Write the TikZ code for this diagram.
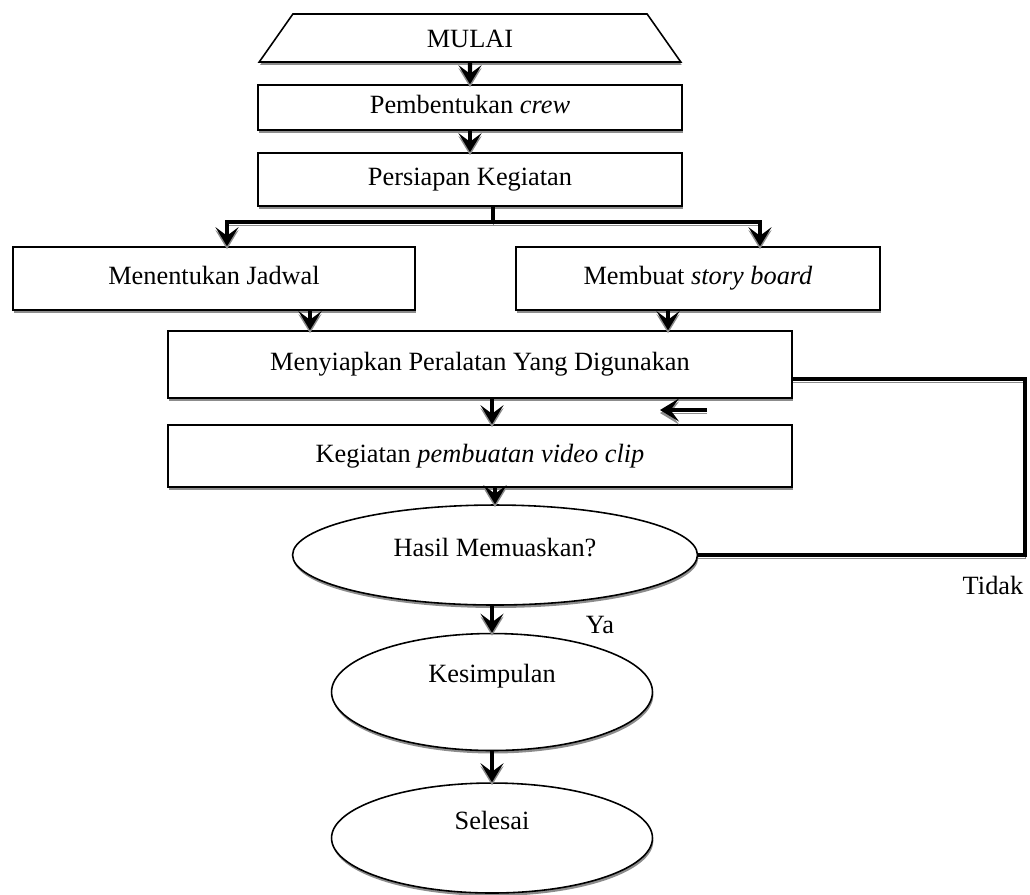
\documentclass[tikz,border=0pt]{standalone}
\usepackage{fontspec}
\setmainfont{Liberation Serif}
\usetikzlibrary{arrows.meta,positioning,calc,shapes.geometric,shadows}
\definecolor{shadowg}{gray}{0.55}
\newcommand{\flowfont}{\fontsize{15}{18}\selectfont}
\tikzset{
  every picture/.append style={font=\flowfont},
  fbox/.style   = {draw, line width=0.9pt, fill=white, inner sep=0pt, align=center,
                   text height=10.5pt, text depth=3.2pt,
                   drop shadow={shadow xshift=0.5pt, shadow yshift=-1.7pt,
                                fill=shadowg, opacity=1}},
  fterm/.style  = {fbox, ellipse},
  fstart/.style = {fbox, trapezium, trapezium left angle=66,
                   trapezium right angle=66, trapezium stretches=true},
  conn/.style   = {draw, line width=2.5pt,
                   preaction={draw=shadowg, transform canvas={yshift=-1.7pt}}},
  arr/.style    = {conn, -{Stealth[length=3.8mm, width=4.6mm, inset=1.7mm]}},
  lbl/.style    = {inner sep=0pt},
}

\begin{document}
\begin{tikzpicture}[x=0.02cm, y=-0.02cm]
  \useasboundingbox (0,0) rectangle (1030,894);

  % boxes
  \node[fstart, minimum width=8.48cm, minimum height=0.96cm, text depth=0pt] (mulai) at (470,38) {MULAI};
  \node[fbox, minimum width=8.48cm, minimum height=0.9cm] (crew) at (470,107.5) {Pembentukan \textit{crew}};
  \node[fbox, minimum width=8.48cm, minimum height=1.06cm] (persiapan) at (470,179.5) {Persiapan Kegiatan};
  \node[fbox, minimum width=8.04cm, minimum height=1.26cm] (jadwal) at (214,278.5) {Menentukan Jadwal};
  \node[fbox, minimum width=7.28cm, minimum height=1.26cm] (story) at (698,278.5) {Membuat \textit{story board}};
  \node[fbox, minimum width=12.48cm, minimum height=1.34cm] (siap) at (480,364.5) {Menyiapkan Peralatan Yang Digunakan};
  \node[fbox, minimum width=12.48cm, minimum height=1.24cm] (kegiatan) at (480,456) {Kegiatan \textit{pembuatan video clip}};
  \node[fterm, minimum width=8.1cm, minimum height=2cm, text depth=0.3cm] (hasil) at (495,555) {Hasil Memuaskan?};
  \node[fterm, minimum width=6.42cm, minimum height=2.34cm, text depth=0.75cm] (simpul) at (492,692) {Kesimpulan};
  \node[fterm, minimum width=6.42cm, minimum height=2.2cm, text depth=0.7cm] (selesai) at (492,838) {Selesai};

  % connectors
  \draw[arr] (mulai.south) -- (crew.north);
  \draw[arr] (crew.south) -- (persiapan.north);
  \coordinate (split) at (493,222);
  \draw[conn] (persiapan.south -| split) -- (split);
  \draw[arr] (split) -| ([xshift=0.26cm]jadwal.north);
  \draw[arr] (split) -| ([xshift=1.24cm]story.north);
  \coordinate (jdown) at ([xshift=1.92cm]jadwal.south);
  \coordinate (sdown) at ([xshift=-0.6cm]story.south);
  \draw[arr] (jdown) -- (jdown |- siap.north);
  \draw[arr] (sdown) -- (sdown |- siap.north);
  \coordinate (kdown) at ([xshift=0.24cm]siap.south);
  \draw[arr] (kdown) -- (kdown |- kegiatan.north);
  \draw[arr] (kegiatan.south -| hasil.north) -- (hasil.north);
  \draw[arr] (hasil.south -| simpul.north) -- (simpul.north);
  \draw[arr] (simpul.south) -- (selesai.north);

  % loop back
  \coordinate (balik) at (1025,379);
  \draw[conn] (hasil.east) -| (balik) -- (balik -| siap.east);
  \coordinate (tA) at (707,410);
  \coordinate (tB) at (660,410);
  \draw[arr] (tA) -- (tB);

  \node[lbl] (ya) at (600,625) {Ya};
  \node[lbl] (tidak) at (993,585) {Tidak};
\end{tikzpicture}
\end{document}
